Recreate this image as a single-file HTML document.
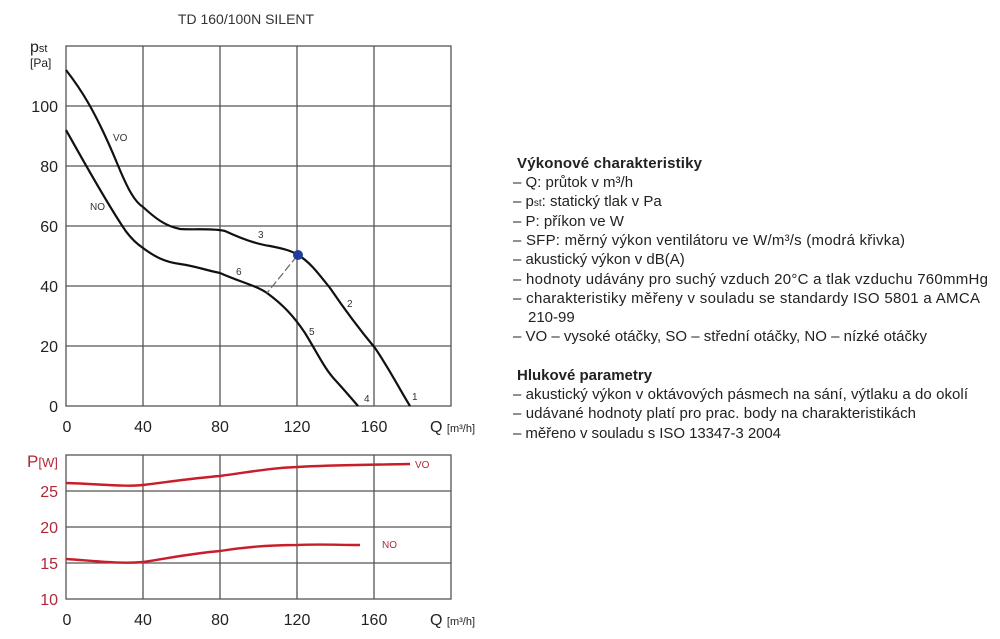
<!DOCTYPE html>
<html><head><meta charset="utf-8"><style>
body{margin:0;background:#fff;}
svg{display:block;font-family:"Liberation Sans",sans-serif;}
</style></head><body>
<svg width="1000" height="639" viewBox="0 0 1000 639" xmlns="http://www.w3.org/2000/svg">
<rect width="1000" height="639" fill="#fff"/>
<text x="246" y="24" font-size="14" text-anchor="middle" fill="#333">TD 160/100N SILENT</text>
<g stroke="#555" stroke-width="1.3" fill="none">
<rect x="66" y="46" width="385" height="360"/>
<line x1="143" y1="46" x2="143" y2="406"/><line x1="220" y1="46" x2="220" y2="406"/>
<line x1="297" y1="46" x2="297" y2="406"/><line x1="374" y1="46" x2="374" y2="406"/>
<line x1="66" y1="106" x2="451" y2="106"/><line x1="66" y1="166" x2="451" y2="166"/>
<line x1="66" y1="226" x2="451" y2="226"/><line x1="66" y1="286" x2="451" y2="286"/>
<line x1="66" y1="346" x2="451" y2="346"/>
</g>
<g font-size="16" fill="#222" text-anchor="end">
<text x="58" y="112">100</text><text x="58" y="172">80</text><text x="58" y="232">60</text>
<text x="58" y="292">40</text><text x="58" y="352">20</text><text x="58" y="412">0</text>
</g>
<text x="30" y="52" font-size="16" fill="#222">p<tspan font-size="11">st</tspan></text>
<text x="30" y="67" font-size="12" fill="#222">[Pa]</text>
<g font-size="16" fill="#222" text-anchor="middle">
<text x="67" y="432">0</text><text x="143" y="432">40</text><text x="220" y="432">80</text>
<text x="297" y="432">120</text><text x="374" y="432">160</text>
</g>
<text x="430" y="432" font-size="16" fill="#222">Q <tspan font-size="11">[m³/h]</tspan></text>
<g stroke="#111" stroke-width="2.2" fill="none">
<path d="M66,70 C80,88 95,110 117,163 C128,190 135,202 143,207 C155,218 165,226 180,229 C195,230 212,228 225,231 C240,238 255,244 270,246 C285,249 292,251 298,255 C310,262 318,273 330,288 C345,310 360,330 375,348 C390,370 400,390 410,406"/>
<path d="M66,130 C80,155 105,200 123,227 C130,238 137,244 143,248 C155,257 165,262 180,264 C195,266 205,270 220,273 C240,282 255,285 267,293 C282,304 293,315 305,333 C318,354 325,370 337,382 C346,392 352,399 358,406"/>
</g>
<line x1="297" y1="256" x2="267" y2="293" stroke="#666" stroke-width="1.2" stroke-dasharray="8,3"/>
<circle cx="298" cy="255" r="5" fill="#1f3d99"/>
<g font-size="10" fill="#333">
<text x="113" y="141">VO</text><text x="90" y="210">NO</text>
<text x="258" y="238">3</text><text x="236" y="275">6</text><text x="347" y="307">2</text>
<text x="309" y="335">5</text><text x="364" y="402">4</text><text x="412" y="400">1</text>
</g>
<g stroke="#555" stroke-width="1.3" fill="none">
<rect x="66" y="455" width="385" height="144"/>
<line x1="143" y1="455" x2="143" y2="599"/><line x1="220" y1="455" x2="220" y2="599"/>
<line x1="297" y1="455" x2="297" y2="599"/><line x1="374" y1="455" x2="374" y2="599"/>
<line x1="66" y1="491" x2="451" y2="491"/><line x1="66" y1="527" x2="451" y2="527"/>
<line x1="66" y1="563" x2="451" y2="563"/>
</g>
<g font-size="16" fill="#b0283a" text-anchor="end">
<text x="58" y="497">25</text><text x="58" y="533">20</text><text x="58" y="569">15</text><text x="58" y="605">10</text>
</g>
<text x="27" y="467" font-size="17" fill="#b0283a">P<tspan font-size="13">[W]</tspan></text>
<g font-size="16" fill="#222" text-anchor="middle">
<text x="67" y="625">0</text><text x="143" y="625">40</text><text x="220" y="625">80</text>
<text x="297" y="625">120</text><text x="374" y="625">160</text>
</g>
<text x="430" y="625" font-size="16" fill="#222">Q <tspan font-size="11">[m³/h]</tspan></text>
<g stroke="#c81e2a" stroke-width="2.4" fill="none">
<path d="M66,483 C100,484 125,487 143,485 C175,481 195,478 220,476 C250,472 270,468 297,467 C330,465 360,465 410,464"/>
<path d="M66,559 C95,561 120,564 143,562 C175,557 195,553 220,551 C245,547 270,545 297,545 C320,544 340,545 360,545"/>
</g>
<g font-size="10" fill="#b0283a"><text x="415" y="468">VO</text><text x="382" y="548">NO</text></g>
<g font-size="15" fill="#222">
<text x="517" y="168" font-weight="bold" textLength="185">Výkonové charakteristiky</text>
<text x="513" y="187">– Q: průtok v m³/h</text>
<text x="513" y="206">– p<tspan font-size="10">st</tspan>: statický tlak v Pa</text>
<text x="513" y="226">– P: příkon ve W</text>
<text x="513" y="245" textLength="392">– SFP: měrný výkon ventilátoru ve W/m³/s (modrá křivka)</text>
<text x="513" y="264">– akustický výkon v dB(A)</text>
<text x="513" y="284" textLength="475">– hodnoty udávány pro suchý vzduch 20°C a tlak vzduchu 760mmHg</text>
<text x="513" y="303" textLength="467">– charakteristiky měřeny v souladu se standardy ISO 5801 a AMCA</text>
<text x="528" y="322">210-99</text>
<text x="513" y="341" textLength="414">– VO – vysoké otáčky, SO – střední otáčky, NO – nízké otáčky</text>
<text x="517" y="380" font-weight="bold">Hlukové parametry</text>
<text x="513" y="399" textLength="455">– akustický výkon v oktávových pásmech na sání, výtlaku a do okolí</text>
<text x="513" y="418" textLength="403">– udávané hodnoty platí pro prac. body na charakteristikách</text>
<text x="513" y="438" textLength="268">– měřeno v souladu s ISO 13347-3 2004</text>
</g>
</svg>
</body></html>
